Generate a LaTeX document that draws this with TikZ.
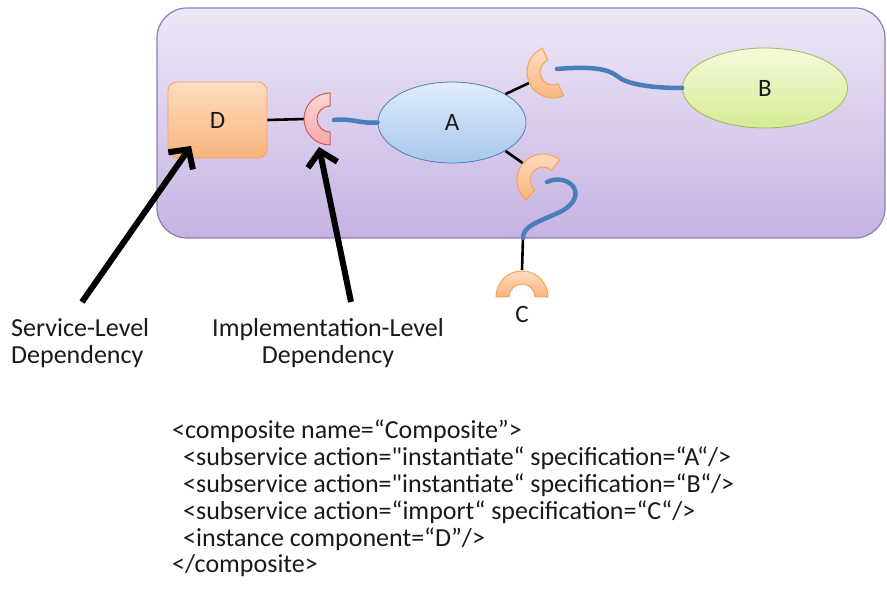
\documentclass[tikz,border=0pt]{standalone}
\usepackage{fontspec}
\setmainfont{Carlito}
\usetikzlibrary{shapes.geometric,arrows.meta,calc}
\definecolor{compLine}  {HTML}{8E7CB3}
\definecolor{compTop}   {HTML}{EEE7F6}
\definecolor{compBottom}{HTML}{C6B3E2}
\definecolor{instLine}  {HTML}{F5A35E}
\definecolor{instTop}   {HTML}{FEDDC0}
\definecolor{instBottom}{HTML}{F9B47C}
\definecolor{implLine}  {HTML}{D65A5C}
\definecolor{implTop}   {HTML}{FCD6D6}
\definecolor{implBottom}{HTML}{F5A9A9}
\definecolor{servLine}  {HTML}{4F7FBB}
\definecolor{servTop}   {HTML}{E0ECFB}
\definecolor{servBottom}{HTML}{A8C6EE}
\definecolor{greenLine} {HTML}{9BBB59}
\definecolor{greenTop}  {HTML}{F4FADB}
\definecolor{greenBottom}{HTML}{D5EB93}
\definecolor{wireBlue}  {HTML}{4A7EBB}
\definecolor{textDark}  {HTML}{1A1A1A}
\newcommand{\sq}{\textquotedbl}

\begin{document}
\begin{tikzpicture}[x=1pt, y=-1pt,
      labelfont/.style={font=\fontsize{25}{28}\selectfont, text=textDark},
      instbox/.style={draw=instLine, thick, rounded corners=9pt,
                      top color=instTop, bottom color=instBottom,
                      minimum width=99pt, minimum height=76pt, labelfont},
      service/.style={ellipse, draw=servLine, thick,
                      top color=servTop, bottom color=servBottom,
                      minimum width=148pt, minimum height=81pt, labelfont},
      greenservice/.style={service, draw=greenLine,
                      top color=greenTop, bottom color=greenBottom,
                      minimum width=165pt, minimum height=80pt},
      bind/.style={line width=2.6pt, draw=black},
      wire/.style={line width=4.5pt, draw=wireBlue, line cap=round},
      pointer/.style={line width=6pt, draw=black,
                      -{Straight Barb[length=14pt, width=30pt]}},
      caption/.style={font=\fontsize{26}{27}\selectfont, text=textDark, inner sep=0pt},
      pics/socket/.style={code={
        \path[draw=#1Line, line width=1pt, top color=#1Top, bottom color=#1Bottom]
          (90:26) arc[start angle=90, end angle=270, radius=26]
          -- (270:13) arc[start angle=270, end angle=90, radius=13] -- cycle;}}]
    \useasboundingbox (0,0) rectangle (887,596);

    % composite
    \path[draw=compLine, line width=1.2pt, rounded corners=30pt,
          top color=compTop, bottom color=compBottom] (157,8) rectangle (885,238);

    \node[instbox]      (D) at (217.5,120) {D};
    \node[service]      (A) at (452,122.5) {A};
    \node[greenservice] (B) at (765,88)    {B};

    \coordinate (sockD) at (330,119);
    \coordinate (sockB) at (553,72);
    \coordinate (sockC) at (543,180);
    \coordinate (impC)  at (522,297);
    \coordinate (tap)   at (523,238);

    % bindings
    \draw[bind] (D.east) -- (305,119);
    \draw[bind] (A.28) -- (529,83);
    \draw[bind] (A.-28) -- (524,164);
    \draw[bind] (tap) -- (522,270);

    % wires
    \draw[wire] ($(sockD)+(4,1)$) .. controls (352,118) and (360,124) .. (A.west);
    \draw[wire] ($(sockB)+(4,-3)$) .. controls (592,66) and (608,69) .. (617,76)
                .. controls (626,84) and (650,88) .. (B.west);
    \draw[wire] ($(sockC)+(4,2)$) .. controls (568,172) and (592,195) .. (560,212)
                .. controls (538,222) and (523,226) .. (tap);

    \pic at (sockD) {socket=impl};
    \pic[rotate=24]  at (sockB) {socket=inst};
    \pic[rotate=-40] at (sockC) {socket=inst};
    \pic[rotate=-90] at (impC)  {socket=inst};
    \node[labelfont, anchor=base] (labC) at (522,323) {C};

    % arrows
    \node[caption, anchor=north west, align=left] (servDep) at (11,318)
      {Service-Level\\Dependency};
    \node[caption, anchor=north, align=center] (implDep) at (328,318)
      {Implementation-Level\\Dependency};
    \draw[pointer] (82,302) -- (191,146);
    \draw[pointer] (351,302) -- (319,147);

    \node[caption, anchor=north west, align=left, font=\fontsize{26}{26.8}\selectfont]
      (xml) at (172,420)
      {<composite name=“Composite”>\\
       \hspace{11pt}<subservice action=\sq instantiate“ specification=“A“/>\\
       \hspace{11pt}<subservice action=\sq instantiate“ specification=“B“/>\\
       \hspace{11pt}<subservice action=“import“ specification=“C“/>\\
       \hspace{11pt}<instance component=“D”/>\\
       </composite>};
  \end{tikzpicture}
\end{document}
